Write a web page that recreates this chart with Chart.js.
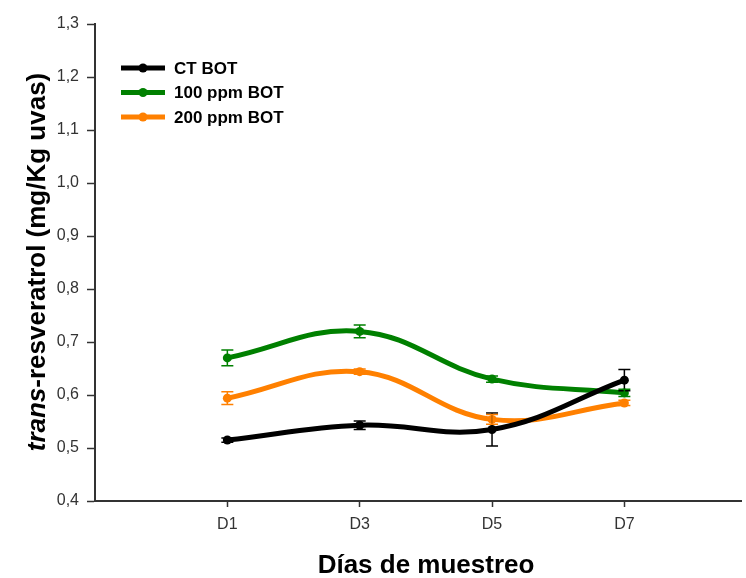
<!DOCTYPE html>
<html>
<head>
<meta charset="utf-8">
<script src="https://cdn.jsdelivr.net/npm/chart.js@4.4.1/dist/chart.umd.min.js"></script>
<style>
html,body{margin:0;padding:0;background:#fff;overflow:hidden;}
#wrap{width:746px;height:578px;position:relative;}
</style>
</head>
<body>
<div id="wrap"><canvas id="c"></canvas></div>
<script>
// ---- data ----
const dayLabels = ['D1', 'D3', 'D5', 'D7'];
const dayValues = [1, 3, 5, 7];
const seriesNames = ['CT BOT', '100 ppm BOT', '200 ppm BOT'];
const ctBot = [0.515, 0.543, 0.535, 0.628];
const ctBotErr = [0.004, 0.008, 0.031, 0.020];
const ppm100 = [0.670, 0.720, 0.630, 0.604];
const ppm100Err = [0.015, 0.012, 0.006, 0.007];
const ppm200 = [0.594, 0.644, 0.554, 0.585];
const ppm200Err = [0.012, 0.005, 0.009, 0.005];
const yTickValues = [0.4, 0.5, 0.6, 0.7, 0.8, 0.9, 1.0, 1.1, 1.2, 1.3];
const yTitleItalic = 'trans';
const yTitleRest = '-resveratrol (mg/Kg uvas)';
const xTitle = 'Días de muestreo';

const colors = ['#000000', '#008000', '#ff8000'];
const seriesValues = [ctBot, ppm100, ppm200];
const seriesErrors = [ctBotErr, ppm100Err, ppm200Err];

function toPoints(vals) { return vals.map((v, i) => ({ x: dayValues[i], y: v })); }

const datasets = seriesNames.map((name, i) => ({
  label: name,
  data: toPoints(seriesValues[i]),
  errors: seriesErrors[i],
  borderColor: colors[i],
  backgroundColor: colors[i],
  borderWidth: 5,
  pointRadius: 4.5,
  pointBorderWidth: 0,
  pointBackgroundColor: colors[i],
  tension: 0.4,
  fill: false
}));

const FONT = '"Liberation Sans", Arial, sans-serif';

const errorBars = {
  id: 'errorBars',
  afterDatasetsDraw(chart) {
    const ctx = chart.ctx;
    const xs = chart.scales.x, ys = chart.scales.y;
    chart.data.datasets.forEach((ds) => {
      ctx.save();
      ctx.strokeStyle = ds.borderColor;
      ctx.lineWidth = 1.5;
      ds.data.forEach((p, j) => {
        const e = ds.errors[j];
        const px = xs.getPixelForValue(p.x);
        const top = ys.getPixelForValue(p.y + e);
        const bot = ys.getPixelForValue(p.y - e);
        ctx.beginPath();
        ctx.moveTo(px, top); ctx.lineTo(px, bot);
        ctx.moveTo(px - 6, top); ctx.lineTo(px + 6, top);
        ctx.moveTo(px - 6, bot); ctx.lineTo(px + 6, bot);
        ctx.stroke();
      });
      ctx.restore();
    });
  }
};

const decorations = {
  id: 'decorations',
  afterDraw(chart) {
    const ctx = chart.ctx;
    const area = chart.chartArea;
    // legend inside plot
    ctx.save();
    const lx0 = area.left + 26, lx1 = area.left + 70, ty = area.top + 44, dy = 24.5;
    chart.data.datasets.forEach((ds, i) => {
      const y = ty + i * dy;
      ctx.strokeStyle = ds.borderColor;
      ctx.lineWidth = 5;
      ctx.beginPath(); ctx.moveTo(lx0, y); ctx.lineTo(lx1, y); ctx.stroke();
      ctx.fillStyle = ds.borderColor;
      ctx.beginPath(); ctx.arc((lx0 + lx1) / 2, y, 4.5, 0, Math.PI * 2); ctx.fill();
      ctx.fillStyle = '#000';
      ctx.font = 'bold 17px ' + FONT;
      ctx.textBaseline = 'middle';
      ctx.textAlign = 'left';
      ctx.fillText(ds.label, lx1 + 9, y + 1);
    });
    ctx.restore();

    // y title (rotated, with italic part)
    ctx.save();
    ctx.translate(38, 262);
    ctx.rotate(-Math.PI / 2);
    ctx.fillStyle = '#000';
    ctx.textBaseline = 'middle';
    ctx.textAlign = 'left';
    const f1 = 'italic bold 26px ' + FONT, f2 = 'bold 26px ' + FONT;
    ctx.font = f1; const w1 = ctx.measureText(yTitleItalic).width;
    ctx.font = f2; const w2 = ctx.measureText(yTitleRest).width;
    const start = -(w1 + w2) / 2;
    ctx.font = f1; ctx.fillText(yTitleItalic, start, 0);
    ctx.font = f2; ctx.fillText(yTitleRest, start + w1, 0);
    ctx.restore();

    // x title
    ctx.save();
    ctx.fillStyle = '#000';
    ctx.font = 'bold 26px ' + FONT;
    ctx.textAlign = 'center';
    ctx.textBaseline = 'middle';
    ctx.fillText(xTitle, 426, 566);
    ctx.restore();
  }
};

new Chart(document.getElementById('c'), {
  type: 'line',
  data: { datasets },
  options: {
    responsive: true,
    maintainAspectRatio: false,
    animation: false,
    layout: { padding: { top: 24, right: 0, left: 0, bottom: 0 } },
    plugins: { legend: { display: false }, tooltip: { enabled: false } },
    scales: {
      x: {
        type: 'linear',
        min: -1,
        max: 8.77,
        afterBuildTicks(scale) { scale.ticks = dayValues.map(v => ({ value: v })); },
        afterFit(scale) { scale.height = 77; },
        ticks: {
          callback: (v) => dayLabels[dayValues.indexOf(v)] || '',
          color: '#333',
          font: { family: FONT, size: 16 },
          padding: 8,
          maxRotation: 0,
          autoSkip: false
        },
        grid: { drawOnChartArea: false, tickLength: 6, color: '#333', tickWidth: 1.5 },
        border: { display: true, color: '#333', width: 2 }
      },
      y: {
        type: 'linear',
        min: 0.4,
        max: 1.3,
        afterBuildTicks(scale) { scale.ticks = yTickValues.map(v => ({ value: v })); },
        afterFit(scale) { scale.width = 95; },
        ticks: {
          callback: (v) => v.toFixed(1).replace('.', ','),
          color: '#333',
          font: { family: FONT, size: 16 },
          padding: 8
        },
        grid: { drawOnChartArea: false, tickLength: 8, color: '#333', tickWidth: 1.5 },
        border: { display: true, color: '#333', width: 2 }
      }
    }
  },
  plugins: [errorBars, decorations]
});
</script>
</body>
</html>
